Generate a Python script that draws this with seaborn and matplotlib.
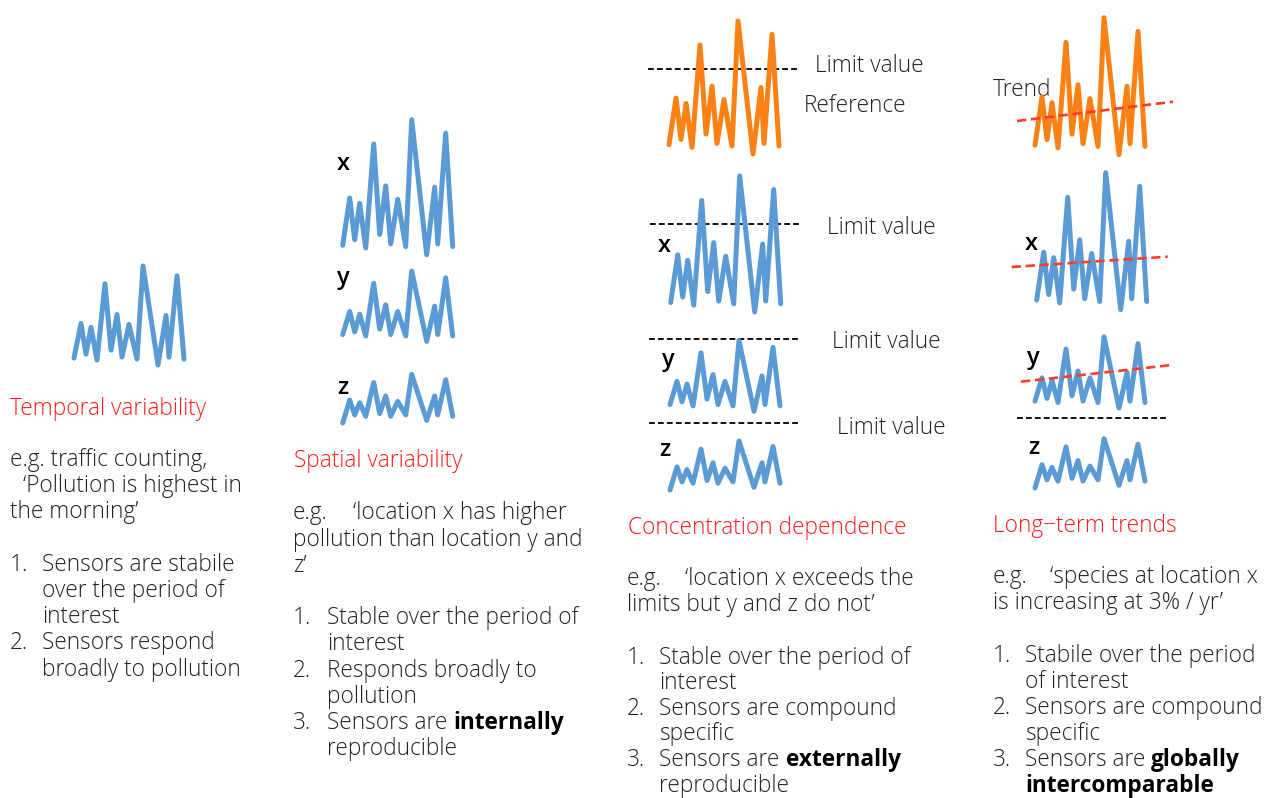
import numpy as np
import pandas as pd
import matplotlib
matplotlib.use("Agg")
import matplotlib.pyplot as plt
import seaborn as sns

# ---------------- data ----------------
time_steps = [0, 7, 12, 17, 23, 31, 37, 43, 48, 55, 63, 69, 84, 92, 95, 103, 110]
sensor_x = [7, 42, 11, 38, 5, 82, 15, 51, 8, 41, 6, 100, 0, 50, 8, 90, 6]
sensor_y = [5, 22, 7, 20, 4, 43, 9, 27, 5, 22, 4, 52, 0, 26, 5, 47, 4]
sensor_z = [0, 17, 6, 15, 5, 30, 7, 20, 5, 16, 6, 36, 2, 20, 6, 32, 5]
reference = [7, 42, 11, 38, 5, 82, 15, 51, 8, 41, 6, 100, 0, 50, 8, 90, 6]

# limit levels in panel 3 (reference, x, y, z) and panel 4 (z row)
limit_levels_p3 = [64, 65, 53, 49]
limit_level_p4_z = 51
limit_span_t = [-21, 131]
limit_span_t_p4 = [-18, 133]

# trend lines in panel 4 (start / end time, start / end value)
trend_t_ref, trend_v_ref = [-18, 138], [24.6, 38.7]
trend_t_x, trend_v_x = [-25, 131], [31.2, 38.7]
trend_t_y, trend_v_y = [-14, 137], [19.2, 31.4]

BLUE = "#5b9bd5"
ORANGE = "#fa8114"
RED_TREND = "#ff3b2b"
TITLE_RED = "#fc1c1c"
TXT = "#222222"

sns.set_theme(style="white")
FAM = ["Open Sans", "DejaVu Sans"]
plt.rcParams["font.family"] = FAM

W, H = 1274, 798
fig = plt.figure(figsize=(W / 100, H / 100), dpi=100)
fig.patch.set_facecolor("white")
bg = fig.add_axes([0, 0, 1, 1])
bg.set_xlim(0, W)
bg.set_ylim(H, 0)
bg.axis("off")

TLIM = (-30, 145)
VLIM = (-8, 110)


def mini(x0, base, vs):
    left = x0 + TLIM[0]
    width = TLIM[1] - TLIM[0]
    top = base - VLIM[1] * vs
    height = (VLIM[1] - VLIM[0]) * vs
    ax = fig.add_axes([left / W, 1 - (top + height) / H, width / W, height / H])
    ax.patch.set_alpha(0)
    return ax


def finish(ax):
    ax.set_xlim(TLIM)
    ax.set_ylim(VLIM)
    ax.axis("off")
    if ax.get_legend() is not None:
        ax.get_legend().remove()


def series(ax, values, color):
    sns.lineplot(x=time_steps, y=values, ax=ax, color=color, linewidth=3.6,
                 clip_on=False, solid_joinstyle="round", solid_capstyle="round")


def limit(ax, span, level):
    sns.lineplot(x=span, y=[level, level], ax=ax, color="#111111",
                 linewidth=1.4, linestyle=(0, (3, 1.6)), clip_on=False)


def trend(ax, t, v):
    sns.lineplot(x=t, y=v, ax=ax, color=RED_TREND, linewidth=1.9,
                 linestyle=(0, (3.5, 1.8)), clip_on=False)


# ---------------- panel 1 ----------------
ax = mini(74, 365, 0.99)
series(ax, sensor_x, BLUE)
finish(ax)

# ---------------- panel 2 ----------------
for vals, base in [(sensor_x, 254.7), (sensor_y, 341.3), (sensor_z, 423)]:
    ax = mini(342.7, base, 1.35)
    series(ax, vals, BLUE)
    finish(ax)

# ---------------- panel 3 ----------------
rows3 = [(reference, ORANGE, 669, 154, 1.33),
         (sensor_x, BLUE, 670.7, 312, 1.36),
         (sensor_y, BLUE, 670, 411.3, 1.36),
         (sensor_z, BLUE, 670, 490, 1.36)]
for (vals, col, x0, base, vs), lev in zip(rows3, limit_levels_p3):
    ax = mini(x0, base, vs)
    limit(ax, limit_span_t, lev)
    series(ax, vals, col)
    finish(ax)

# ---------------- panel 4 ----------------
ax = mini(1035, 154.7, 1.37)
series(ax, reference, ORANGE)
trend(ax, trend_t_ref, trend_v_ref)
finish(ax)

ax = mini(1036.7, 309.7, 1.37)
series(ax, sensor_x, BLUE)
trend(ax, trend_t_x, trend_v_x)
finish(ax)

ax = mini(1035, 408, 1.37)
series(ax, sensor_y, BLUE)
trend(ax, trend_t_y, trend_v_y)
finish(ax)

ax = mini(1035, 488, 1.37)
limit(ax, limit_span_t_p4, limit_level_p4_z)
series(ax, sensor_z, BLUE)
finish(ax)

# ---------------- text ----------------
FS = 16.3
WEIGHT = "light"


def txt(x, y, s, color=TXT, weight=WEIGHT, size=FS, **kw):
    return bg.text(x, y, s, color=color, fontsize=size, fontweight=weight,
                   family=FAM, va="baseline", ha="left", **kw)


def rich(x, y, parts):
    prev = None
    for s, bold in parts:
        w = "bold" if bold else WEIGHT
        c = "#000000" if bold else TXT
        if prev is None:
            prev = txt(x, y, s, color=c, weight=w)
        else:
            prev = bg.annotate(s, xy=(1, 0), xycoords=prev, va="bottom", ha="left",
                               fontsize=FS, fontweight=w, color=c, family=FAM)


# panel 1
txt(10, 415, "Temporal variability", color=TITLE_RED)
txt(10, 466, "e.g. traffic counting,")
txt(23, 492, "‘Pollution is highest in")
txt(10, 518, "the morning’")
txt(10, 571, "1.")
txt(42, 571, "Sensors are stabile")
txt(42, 597, "over the period of")
txt(42, 623, "interest")
txt(10, 649, "2.")
txt(42, 649, "Sensors respond")
txt(42, 676, "broadly to pollution")

# panel 2
txt(294, 467, "Spatial variability", color=TITLE_RED)
txt(293, 519, "e.g.")
txt(353, 519, "‘location x has higher")
txt(293, 546, "pollution than location y and")
txt(293, 572, "z’")
txt(293, 624, "1.")
txt(326.7, 624, "Stable over the period of")
txt(326.7, 650, "interest")
txt(293, 677, "2.")
txt(326.7, 677, "Responds broadly to")
txt(326.7, 703, "pollution")
txt(293, 729, "3.")
rich(326.7, 729, [("Sensors are ", False), ("internally", True)])
txt(326.7, 755, "reproducible")

# panel 3
txt(628, 534, "Concentration dependence", color=TITLE_RED)
txt(627, 585, "e.g.")
txt(685, 585, "‘location x exceeds the")
txt(627, 611, "limits but y and z do not’")
txt(627, 664, "1.")
txt(659.3, 664, "Stable over the period of")
txt(659.3, 689, "interest")
txt(627, 715, "2.")
txt(659.3, 715, "Sensors are compound")
txt(659.3, 740.5, "specific")
txt(627, 766.5, "3.")
rich(659.3, 766.5, [("Sensors are ", False), ("externally", True)])
txt(659.3, 792, "reproducible")

# panel 4
txt(992.7, 531.7, "Long\u2212term trends", color=TITLE_RED)
txt(992.7, 583.3, "e.g.")
txt(1050, 583.3, "‘species at location x")
txt(992.7, 609, "is increasing at 3% / yr’")
txt(992.7, 662.3, "1.")
txt(1025, 662.3, "Stabile over the period")
txt(1025, 688, "of interest")
txt(992.7, 714, "2.")
txt(1025, 714, "Sensors are compound")
txt(1025, 740, "specific")
txt(992.7, 766, "3.")
rich(1025, 766, [("Sensors are ", False), ("globally", True)])
rich(1025, 791.5, [("intercomparable", True)])

# chart annotations
txt(815, 72.3, "Limit value")
txt(804, 111.7, "Reference")
txt(827.3, 234, "Limit value")
txt(832.3, 348.3, "Limit value")
txt(836.7, 434, "Limit value")
txt(992.7, 96, "Trend")

LAB = 17
for (x, y, s) in [(337, 170.5, "x"), (337, 284, "y"), (337, 394, "z"),
                  (658, 252, "x"), (661.7, 366, "y"), (659, 456, "z"),
                  (1025, 250, "x"), (1026.7, 364.5, "y"), (1028, 453.5, "z")]:
    txt(x, y, s, color="#000000", weight="semibold", size=LAB)

fig.savefig("out.png", dpi=100, facecolor="white")
